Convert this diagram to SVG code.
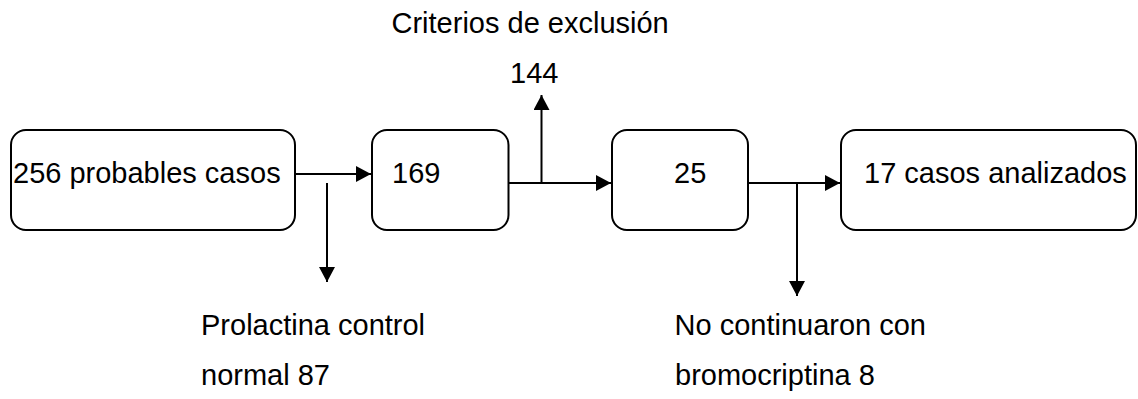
<svg xmlns="http://www.w3.org/2000/svg" width="1138" height="399" viewBox="0 0 1138 399">
<style>
.box{fill:#fff;stroke:#000;stroke-width:2}
.ln{fill:none;stroke:#000;stroke-width:2}
text{font-family:"Liberation Sans",Arial,sans-serif;font-size:29px;fill:#000}
</style>
<defs>
<marker id="ah" markerUnits="userSpaceOnUse" markerWidth="17" markerHeight="17" refX="15" refY="8" orient="auto">
<path d="M0,0 L15,8 L0,16 Z" fill="#000"/>
</marker>
</defs>
<rect width="1138" height="399" fill="#fff"/>
<g id="connectors">
<line class="ln" x1="296" y1="174" x2="371" y2="174" marker-end="url(#ah)"/>
<line class="ln" x1="327" y1="183" x2="327" y2="282" marker-end="url(#ah)"/>
<line class="ln" x1="509" y1="183" x2="611" y2="183" marker-end="url(#ah)"/>
<line class="ln" x1="541.5" y1="183" x2="541.5" y2="95" marker-end="url(#ah)"/>
<line class="ln" x1="748" y1="183" x2="840" y2="183" marker-end="url(#ah)"/>
<line class="ln" x1="797" y1="183" x2="797" y2="296" marker-end="url(#ah)"/>
</g>
<g id="n1">
<rect class="box" x="11" y="130" width="284" height="100" rx="15"/>
<text x="13" y="183">256 probables casos</text>
</g>
<g id="n2">
<rect class="box" x="372" y="130" width="136.5" height="100" rx="15"/>
<text x="392" y="183">169</text>
</g>
<g id="n3">
<rect class="box" x="612" y="130" width="136" height="100" rx="15"/>
<text x="674" y="183">25</text>
</g>
<g id="n4">
<rect class="box" x="841" y="130" width="295" height="100" rx="15"/>
<text x="864" y="183">17 casos analizados</text>
</g>
<g id="labels">
<text x="391.5" y="32.5">Criterios de exclusión</text>
<text x="510" y="83">144</text>
<text x="201" y="335">Prolactina control</text>
<text x="201" y="385">normal 87</text>
<text x="674.5" y="335">No continuaron con</text>
<text x="675" y="385">bromocriptina 8</text>
</g>
</svg>
